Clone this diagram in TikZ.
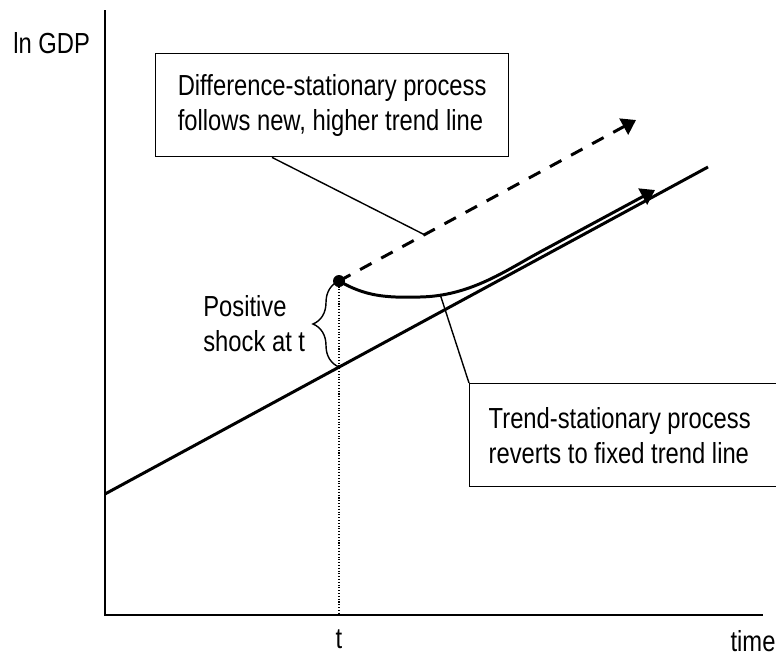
\documentclass[tikz,border=0pt]{standalone}
\usepackage{fontspec}
\setmainfont{Liberation Sans}[FakeStretch=0.82]
\usetikzlibrary{arrows.meta, decorations.pathreplacing, positioning}

\begin{document}
\begin{tikzpicture}[
        x=0.02cm, y=-0.02cm,
        axis/.style={line width=1.4pt},
        trend/.style={line width=1.7pt},
        leader/.style={line width=0.8pt},
        label/.style={font=\fontsize{16.5}{19.9}\selectfont, inner sep=0pt},
        callout/.style={draw, line width=0.8pt, align=left, anchor=north west, font=\fontsize{16.5}{19.9}\selectfont, inner xsep=0.38cm, minimum height=2.06cm},
        arrow/.style={-{Triangle[length=0.28cm, width=0.36cm]}}
    ]
        \useasboundingbox (0,0) rectangle (776,656);
        \clip (0,0) rectangle (776,656);

        % Axes
        \coordinate (origin) at (105,615);
        \coordinate (ytop) at (105,10);
        \coordinate (xend) at (763,615);
        \draw[axis] (ytop) -- (origin) -- (xend);
        \node[label, anchor=base west] (ylab) at (13,53) {ln GDP};
        \node[label, anchor=base] (xlab) at (753,651) {time};
        \node[label, anchor=base] (tlab) at (339,648) {t};

        % Fixed trend line
        \coordinate (trendL) at (105,494);
        \coordinate (trendR) at (708,167);
        \draw[trend] (trendL) -- (trendR);

        % Shock at t
        \node[circle, fill, inner sep=0pt, minimum size=0.24cm] (shock) at (339,281) {};
        \coordinate (tbase) at (339,615);
        \coordinate (tcross) at (339,367);
        \draw[densely dotted, line width=0.6pt] (shock.center) -- (tbase);
        \draw[line width=0.8pt, decorate, decoration={brace, amplitude=0.52cm}] (tcross) -- (shock.center);
        \node[label, align=left, anchor=west] (shocklab) at (203,324) {Positive\\shock at t};

        % Difference-stationary path
        \coordinate (dtip) at (636,120);
        \draw[trend, dash pattern=on 0.26cm off 0.22cm, arrow] (shock.center) -- (dtip);

        % Trend-stationary path
        \coordinate (cend) at (655,190);
        \draw[trend, arrow] (shock.center) .. controls (365,296) and (385,298) .. (420,297)
            .. controls (470,296) and (505,271) .. (540,252) -- (cend);

        % Callouts
        \node[callout, minimum width=7.06cm] (dsbox) at (155,53) {Difference-stationary process\\follows new, higher trend line};
        \node[callout, text width=7cm, align=flush left] (tsbox) at (469,383) {Trend-stationary process\\reverts to fixed trend line};

        \coordinate (dhit) at (425,235);
        \coordinate (chit) at (440,294);
        \draw[leader] (dsbox.south west) ++(117,0) -- (dhit);
        \draw[leader] (tsbox.north west) -- (chit);
    \end{tikzpicture}
\end{document}
